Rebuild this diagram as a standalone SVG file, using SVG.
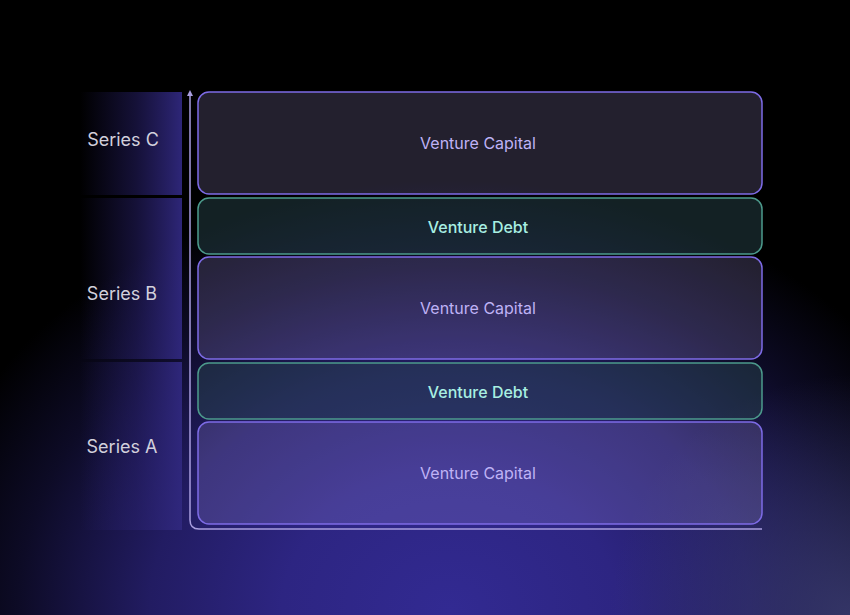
<svg xmlns="http://www.w3.org/2000/svg" width="850" height="615" viewBox="0 0 850 615">
<defs>
<radialGradient id="bg" cx="450" cy="610" r="600" gradientUnits="userSpaceOnUse" gradientTransform="translate(450 610) scale(1 0.8) translate(-450 -610)">
<stop offset="0" stop-color="#322a92"/>
<stop offset="0.28" stop-color="#2d2582"/>
<stop offset="0.5" stop-color="#221c62"/>
<stop offset="0.72" stop-color="#0d0b26"/>
<stop offset="0.9" stop-color="#000000"/>
</radialGradient>
<radialGradient id="bg2" cx="850" cy="615" r="240" gradientUnits="userSpaceOnUse">
<stop offset="0" stop-color="#3c3e72" stop-opacity="0.8"/>
<stop offset="1" stop-color="#3c3e72" stop-opacity="0"/>
</radialGradient>
<linearGradient id="panel" x1="0" y1="0" x2="1" y2="0">
<stop offset="0" stop-color="#2a2270" stop-opacity="0"/>
<stop offset="0.55" stop-color="#2a2270" stop-opacity="0.5"/>
<stop offset="1" stop-color="#30287e" stop-opacity="0.95"/>
</linearGradient>
<style>
.series{font-family:"Inter","Liberation Sans",sans-serif;font-size:18px;fill:#d2d0dc;text-anchor:middle}
.vc rect{fill:#c2b2ff;fill-opacity:0.18;stroke:#7d6be6;stroke-width:1.5}
.vd rect{fill:#2a4a50;fill-opacity:0.45;stroke:#4c9a8c;stroke-width:1.5}
.vc text{font-family:"Inter","Liberation Sans",sans-serif;font-size:16px;fill:#bfb2f5;text-anchor:middle}
.vd text{font-family:"Inter","Liberation Sans",sans-serif;font-size:16px;fill:#a8efe2;text-anchor:middle;font-weight:500}
.axis{fill:none;stroke:#a99ee0;stroke-width:1.5}
</style>
</defs>
<rect width="850" height="615" fill="url(#bg)"/>
<rect width="850" height="615" fill="url(#bg2)"/>

<g id="series-c"><rect x="80" y="92" width="102" height="103" fill="url(#panel)"/><text class="series" x="123" y="146">Series C</text></g>
<g id="series-b"><rect x="80" y="198" width="102" height="161" fill="url(#panel)"/><text class="series" x="122" y="300">Series B</text></g>
<g id="series-a"><rect x="80" y="362" width="102" height="168" fill="url(#panel)"/><text class="series" x="122" y="453">Series A</text></g>

<g id="connectors">
<path class="axis" d="M190,95 L190,520 Q190,529 199,529 L762,529"/>
<path d="M187,96 L190,90 L193,96 Z" fill="#a99ee0"/>
</g>

<g id="vc-c" class="vc"><rect x="198" y="92" width="564" height="102" rx="11"/><text x="478" y="149">Venture Capital</text></g>
<g id="vd-b" class="vd"><rect x="198" y="198" width="564" height="56" rx="11"/><text x="478" y="233">Venture Debt</text></g>
<g id="vc-b" class="vc"><rect x="198" y="257" width="564" height="102" rx="11"/><text x="478" y="314">Venture Capital</text></g>
<g id="vd-a" class="vd"><rect x="198" y="363" width="564" height="56" rx="11"/><text x="478" y="398">Venture Debt</text></g>
<g id="vc-a" class="vc"><rect x="198" y="422" width="564" height="102" rx="11"/><text x="478" y="479">Venture Capital</text></g>
</svg>
